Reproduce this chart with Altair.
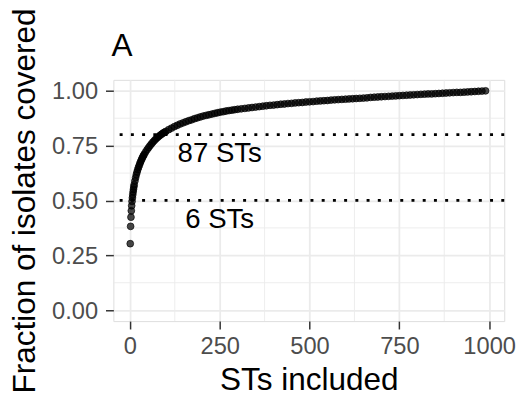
import altair as alt
import pandas as pd

# ---- data ----
sts = [1, 2, 3, 4, 5, 6, 7, 8, 9, 10, 11, 12,
       14, 16, 18, 20, 22, 24, 26, 28, 30, 32, 34, 36, 38, 40,
       44, 48, 52, 56, 60, 64, 68, 72, 76, 80, 84, 88, 92, 96, 100,
       108, 116, 124, 132, 140, 148, 156, 164, 172, 180, 188, 196, 204,
       212, 220, 228, 236, 244, 252, 260, 268, 276, 284, 292, 300,
       310, 320, 330, 340, 350, 360, 370, 380, 390, 400,
       410, 420, 430, 440, 450, 460, 470, 480, 490, 500,
       510, 520, 530, 540, 550, 560, 570, 580, 590, 600,
       610, 620, 630, 640, 650, 660, 670, 680, 690, 700,
       710, 720, 730, 740, 750, 760, 770, 780, 790, 800,
       810, 820, 830, 840, 850, 860, 870, 880, 890, 900,
       910, 920, 930, 940, 950, 960, 970, 980, 990]
frac = [0.303, 0.382, 0.424, 0.453, 0.476, 0.496, 0.512, 0.526, 0.539, 0.551, 0.562, 0.572,
        0.589, 0.604, 0.618, 0.630, 0.641, 0.651, 0.660, 0.669, 0.677, 0.685, 0.692, 0.699, 0.705, 0.711,
        0.722, 0.732, 0.741, 0.750, 0.758, 0.766, 0.773, 0.780, 0.786, 0.792, 0.797, 0.802, 0.807, 0.811, 0.815,
        0.823, 0.830, 0.837, 0.843, 0.849, 0.854, 0.859, 0.864, 0.868, 0.873, 0.877, 0.881, 0.885,
        0.888, 0.891, 0.894, 0.897, 0.900, 0.903, 0.905, 0.908, 0.910, 0.912, 0.914, 0.916,
        0.918, 0.920, 0.922, 0.924, 0.926, 0.928, 0.930, 0.932, 0.934, 0.935,
        0.937, 0.939, 0.940, 0.942, 0.943, 0.945, 0.946, 0.947, 0.949, 0.950,
        0.951, 0.953, 0.954, 0.955, 0.956, 0.958, 0.959, 0.960, 0.961, 0.962,
        0.963, 0.964, 0.965, 0.966, 0.967, 0.968, 0.970, 0.971, 0.972, 0.973,
        0.974, 0.975, 0.976, 0.977, 0.978, 0.979, 0.980, 0.981, 0.982, 0.983,
        0.984, 0.985, 0.986, 0.986, 0.987, 0.988, 0.989, 0.990, 0.991, 0.992,
        0.993, 0.993, 0.994, 0.995, 0.996, 0.997, 0.998, 0.999, 1.000]

x_ticks = [0, 250, 500, 750, 1000]
y_ticks = [0.0, 0.25, 0.5, 0.75, 1.0]
minor_x = [125, 375, 625, 875]
minor_y = [0.125, 0.375, 0.625, 0.875]
thresholds = [0.5, 0.8]
label_text = ["6 STs", "87 STs"]
label_x = [250, 250]
label_y = [0.42, 0.72]
panel_title = ["A"]

FONT = "Liberation Sans"
W, H = 397, 245

df = pd.DataFrame({"sts": sts, "frac": frac})
df_mx = pd.DataFrame({"sts": minor_x})
df_my = pd.DataFrame({"frac": minor_y})
df_th = pd.DataFrame({"frac": thresholds})
df_lab = pd.DataFrame({"sts": label_x, "frac": label_y, "t": label_text})
df_title = pd.DataFrame({"t": panel_title})

xs = alt.Scale(domain=[-46, 1042], nice=False, zero=False)
ys = alt.Scale(domain=[-0.05, 1.05], nice=False, zero=False)

x_axis = alt.Axis(
    values=x_ticks, format="d", title="STs included",
    titleFont=FONT, titleFontSize=32, titleFontWeight="normal", titleColor="black",
    titleX=W / 2, titleY=69, titleAlign="center", titleBaseline="alphabetic",
    labelFont=FONT, labelFontSize=24, labelColor="#4D4D4D", labelPadding=6,
    labelFlush=False, labelOverlap=False,
    tickSize=8, tickColor="#333333", tickWidth=1.5,
    domain=False, grid=True, gridColor="#EBEBEB", gridWidth=1.8)
y_axis = alt.Axis(
    values=y_ticks, format=".2f", title="Fraction of isolates covered",
    titleFont=FONT, titleFontSize=32, titleFontWeight="normal", titleColor="black",
    titleX=-80, titleY=H / 2, titleAngle=270, titleAlign="center", titleBaseline="alphabetic",
    labelFont=FONT, labelFontSize=24, labelColor="#4D4D4D", labelPadding=8,
    labelOffset=1, labelOverlap=False,
    tickSize=8, tickColor="#333333", tickWidth=1.5,
    domain=False, grid=True, gridColor="#EBEBEB", gridWidth=1.8)

X = lambda: alt.X("sts:Q", scale=xs, axis=x_axis)
Y = lambda: alt.Y("frac:Q", scale=ys, axis=y_axis)

minor_v = alt.Chart(df_mx).mark_rule(color="#EBEBEB", strokeWidth=0.9).encode(x=X())
minor_h = alt.Chart(df_my).mark_rule(color="#EBEBEB", strokeWidth=0.9).encode(y=Y())

points = alt.Chart(df).mark_circle(
    size=48, fill="black", fillOpacity=0.72, stroke="black", strokeOpacity=0.85, strokeWidth=0.8
).encode(x=X(), y=Y())

hlines = alt.Chart(df_th).mark_rule(
    color="black", strokeWidth=2.8, strokeDash=[3, 8.4], strokeCap="butt"
).encode(y=Y())

labels = alt.Chart(df_lab).mark_text(
    font=FONT, fontSize=28, color="black", align="center", baseline="middle", dy=2
).encode(x=X(), y=Y(), text="t:N")

title_mark = alt.Chart(df_title).mark_text(
    font=FONT, fontSize=32, color="black", align="left", baseline="alphabetic"
).encode(x=alt.value(-2), y=alt.value(-24.7), text="t:N")

chart = alt.layer(minor_v, minor_h, points, hlines, labels, title_mark).properties(
    width=W, height=H,
    autosize=alt.AutoSizeParams(type="none"),
    padding={"left": 107, "top": 70, "right": 16, "bottom": 69},
).configure_view(stroke="#333333", strokeWidth=1.6).configure(background="white")

chart.save("out.html", embed_options={"renderer": "svg", "actions": False})
